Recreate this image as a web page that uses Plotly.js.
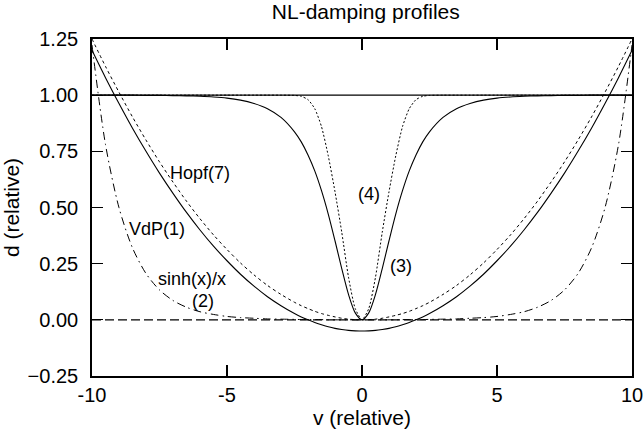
<!DOCTYPE html>
<html>
<head>
<meta charset="utf-8">
<script src="https://cdn.plot.ly/plotly-3.0.1.min.js"></script>
<style>html,body{margin:0;padding:0;background:#fff;}#chart{width:644px;height:439px;}</style>
</head>
<body>
<div id="chart"></div>
<script>
// velocity grid (relative)
const v = [-10,-9.5,-9,-8.5,-8,-7.5,-7,-6.5,-6,-5.5,-5,-4.5,-4,-3.5,-3,-2.5,-2.25,-2,-1.75,-1.5,-1.25,-1,-0.75,-0.5,-0.25,
  0,0.25,0.5,0.75,1,1.25,1.5,1.75,2,2.25,2.5,3,3.5,4,4.5,5,5.5,6,6.5,7,7.5,8,8.5,9,9.5,10];

// VdP(1)
const vdp = [1.200,1.078,0.963,0.853,0.750,0.653,0.563,0.478,0.400,0.328,0.263,0.203,0.150,0.103,0.063,0.028,0.013,0.000,-0.012,-0.022,-0.031,-0.038,-0.043,-0.047,-0.049,
  -0.050,-0.049,-0.047,-0.043,-0.038,-0.031,-0.022,-0.012,0.000,0.013,0.028,0.063,0.103,0.150,0.203,0.263,0.328,0.400,0.478,0.563,0.653,0.750,0.853,0.963,1.078,1.200];

// Hopf(7)
const hopf = [1.250,1.128,1.013,0.903,0.800,0.703,0.613,0.528,0.450,0.378,0.313,0.253,0.200,0.153,0.113,0.078,0.063,0.050,0.038,0.028,0.020,0.013,0.007,0.003,0.001,
  0.000,0.001,0.003,0.007,0.013,0.020,0.028,0.038,0.050,0.063,0.078,0.113,0.153,0.200,0.253,0.313,0.378,0.450,0.528,0.613,0.703,0.800,0.903,1.013,1.128,1.250];

// sinh(x)/x (2)
const sinhx = [1.223,0.780,0.499,0.320,0.206,0.133,0.086,0.056,0.036,0.024,0.015,0.010,0.007,0.004,0.003,0.002,0.001,0.001,0.001,0.001,0.000,0.000,0.000,0.000,0.000,
  0.000,0.000,0.000,0.000,0.000,0.000,0.001,0.001,0.001,0.001,0.002,0.003,0.004,0.007,0.010,0.015,0.024,0.036,0.056,0.086,0.133,0.206,0.320,0.499,0.780,1.223];

// (3)
const prof3 = [1.000,1.000,1.000,1.000,0.999,0.999,0.998,0.997,0.995,0.992,0.987,0.978,0.963,0.940,0.901,0.837,0.792,0.734,0.663,0.575,0.471,0.352,0.228,0.113,0.031,
  0.000,0.031,0.113,0.228,0.352,0.471,0.575,0.663,0.734,0.792,0.837,0.901,0.940,0.963,0.978,0.987,0.992,0.995,0.997,0.998,0.999,0.999,1.000,1.000,1.000,1.000];

// (4)
const prof4 = [1.000,1.000,1.000,1.000,1.000,1.000,1.000,1.000,1.000,1.000,1.000,1.000,1.000,1.000,1.000,0.999,0.995,0.980,0.940,0.860,0.730,0.570,0.390,0.190,0.050,
  0.000,0.050,0.190,0.390,0.570,0.730,0.860,0.940,0.980,0.995,0.999,1.000,1.000,1.000,1.000,1.000,1.000,1.000,1.000,1.000,1.000,1.000,1.000,1.000,1.000,1.000];

// constant reference lines
const vEnds = [-10, 10];
const oneLine = [1, 1];
const zeroLine = [0, 0];

// curve labels
const labelText = ["Hopf(7)", "VdP(1)", "sinh(x)/x", "(2)", "(4)", "(3)"];
const labelX = [-6.0, -7.6, -6.3, -5.9, 0.26, 1.44];
const labelY = [0.655, 0.405, 0.183, 0.083, 0.56, 0.241];

const xTicks = [-10, -5, 0, 5, 10];
const yTicks = [-0.25, 0, 0.25, 0.5, 0.75, 1, 1.25];

const black = '#000';
const FONT = 'Liberation Sans, Arial, Helvetica, sans-serif';
const traces = [
  {x: vEnds, y: zeroLine, mode: 'lines', line: {color: black, width: 1.2, dash: '9px,4px'}},
  {x: vEnds, y: oneLine, mode: 'lines', line: {color: black, width: 1.2}},
  {x: v, y: sinhx, mode: 'lines', line: {color: black, width: 1, dash: '8px,4px,1.5px,4px', shape: 'spline', smoothing: 0.8}},
  {x: v, y: hopf, mode: 'lines', line: {color: black, width: 1, dash: 'dot', shape: 'spline', smoothing: 0.8}},
  {x: v, y: vdp, mode: 'lines', line: {color: black, width: 1.1, shape: 'spline', smoothing: 0.8}},
  {x: v, y: prof4, mode: 'lines', line: {color: black, width: 1, dash: '2px,2px', shape: 'spline', smoothing: 0.6}},
  {x: v, y: prof3, mode: 'lines', line: {color: black, width: 1.1, shape: 'spline', smoothing: 0.8}}
];

const annotations = labelText.map((t, i) => ({
  x: labelX[i], y: labelY[i], xref: 'x', yref: 'y', text: t, showarrow: false,
  font: {family: FONT, size: 18, color: black}
}));

const axisCommon = {
  showline: true, linecolor: black, linewidth: 1.8, mirror: 'ticks',
  ticks: 'inside', ticklen: 11, tickwidth: 1.2, tickcolor: black,
  showgrid: false, zeroline: false,
  tickfont: {family: FONT, size: 20, color: black}
};

const layout = {
  width: 644, height: 439,
  margin: {l: 92, r: 12, t: 39, b: 63},
  paper_bgcolor: '#fff', plot_bgcolor: '#fff',
  showlegend: false,
  title: {text: 'NL-damping profiles', xref: 'container', yref: 'container', x: 0.568, xanchor: 'center', y: 0.99, yanchor: 'top',
    font: {family: FONT, size: 21, color: black}},
  xaxis: Object.assign({}, axisCommon, {
    range: [-10, 10], tickvals: xTicks, ticktext: xTicks.map(String), ticklabelstandoff: 0,
    title: {text: 'v (relative)', standoff: 2, font: {family: FONT, size: 21, color: black}}
  }),
  yaxis: Object.assign({}, axisCommon, {
    range: [-0.25, 1.25], tickvals: yTicks, tickformat: '.2f', ticklabelstandoff: 8,
    title: {text: 'd (relative)', standoff: 2, font: {family: FONT, size: 21, color: black}}
  }),
  annotations: annotations
};

Plotly.newPlot('chart', traces, layout, {staticPlot: true, displayModeBar: false});
</script>
</body>
</html>
